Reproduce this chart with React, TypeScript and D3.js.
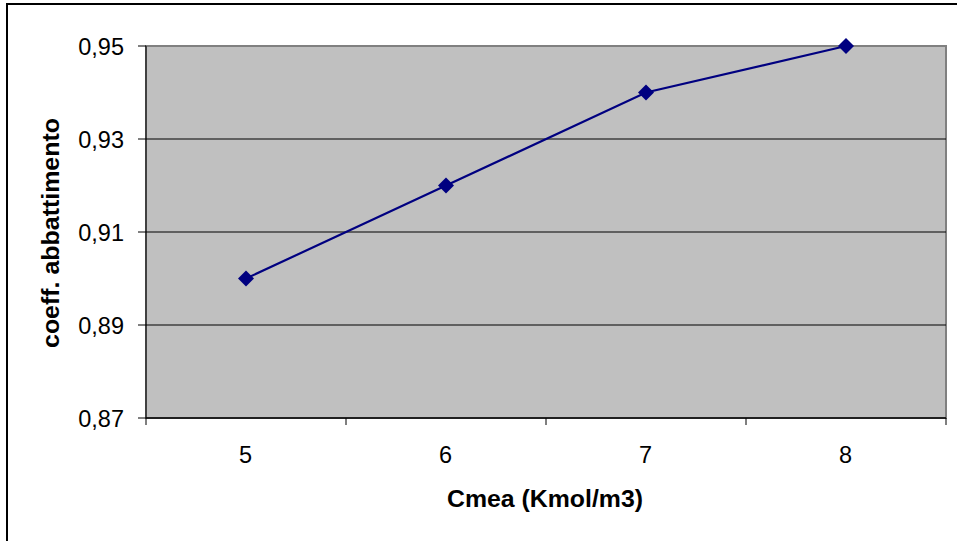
import React from "react";
import * as d3 from "d3";

const categories = ["5", "6", "7", "8"];
const values = [0.9, 0.92, 0.94, 0.95];
const yTicks = [0.87, 0.89, 0.91, 0.93, 0.95];
const xTitle = "Cmea (Kmol/m3)";
const yTitle = "coeff. abbattimento";

export default function App() {
  const W = 957, H = 541;
  const left = 146, right = 946, top = 46, bottom = 418;
  const x = d3.scaleBand<string>().domain(categories).range([left, right]).padding(0);
  const y = d3.scaleLinear().domain([0.87, 0.95]).range([bottom, top]);
  const cx = (c: string) => (x(c) as number) + x.bandwidth() / 2;
  const line = d3.line<number>().x((_, i) => cx(categories[i])).y((v) => y(v));
  const fmt = (v: number) => v.toFixed(2).replace(".", ",");
  const font = "Liberation Sans, Arial, sans-serif";
  const boundaries = categories.map((c) => x(c) as number).concat([right]);
  return (
    <svg width={W} height={H} style={{ position: "absolute", left: 0, top: 0 }} fontFamily={font}>
      <rect x={0} y={0} width={W} height={H} fill="#fff" />
      <rect x={7} y={4} width={W + 10} height={H + 10} fill="none" stroke="#000" strokeWidth={2} />
      <rect x={left} y={top} width={right - left} height={bottom - top} fill="#c0c0c0" stroke="#808080" strokeWidth={2} />
      {yTicks.slice(1, -1).map((t) => (
        <line key={t} x1={left} x2={right} y1={y(t)} y2={y(t)} stroke="#000" strokeWidth={1} />
      ))}
      <line x1={left} x2={left} y1={top} y2={bottom} stroke="#000" strokeWidth={1} />
      <line x1={left} x2={right} y1={bottom} y2={bottom} stroke="#000" strokeWidth={1.5} />
      {yTicks.map((t) => (
        <g key={t}>
          <line x1={left - 8} x2={left} y1={y(t)} y2={y(t)} stroke="#000" />
          <text x={124} y={y(t) + 9} textAnchor="end" fontSize={23.5}>{fmt(t)}</text>
        </g>
      ))}
      {boundaries.map((b, i) => (
        <line key={i} x1={b} x2={b} y1={bottom} y2={bottom + 7} stroke="#000" />
      ))}
      {categories.map((c) => (
        <text key={c} x={cx(c) - 0.5} y={463} textAnchor="middle" fontSize={23.5}>{c}</text>
      ))}
      <path d={line(values) || ""} fill="none" stroke="#000080" strokeWidth={2.2} />
      {values.map((v, i) => {
        const px = cx(categories[i]), py = y(v), r = 8;
        return <path key={i} d={`M${px},${py - r}L${px + r},${py}L${px},${py + r}L${px - r},${py}Z`} fill="#000080" />;
      })}
      <text x={545} y={507} textAnchor="middle" fontSize={24} fontWeight="bold" textLength={196} lengthAdjust="spacingAndGlyphs">{xTitle}</text>
      <text transform={`translate(59,233) rotate(-90)`} textAnchor="middle" fontSize={24} fontWeight="bold" textLength={230} lengthAdjust="spacingAndGlyphs">{yTitle}</text>
    </svg>
  );
}
